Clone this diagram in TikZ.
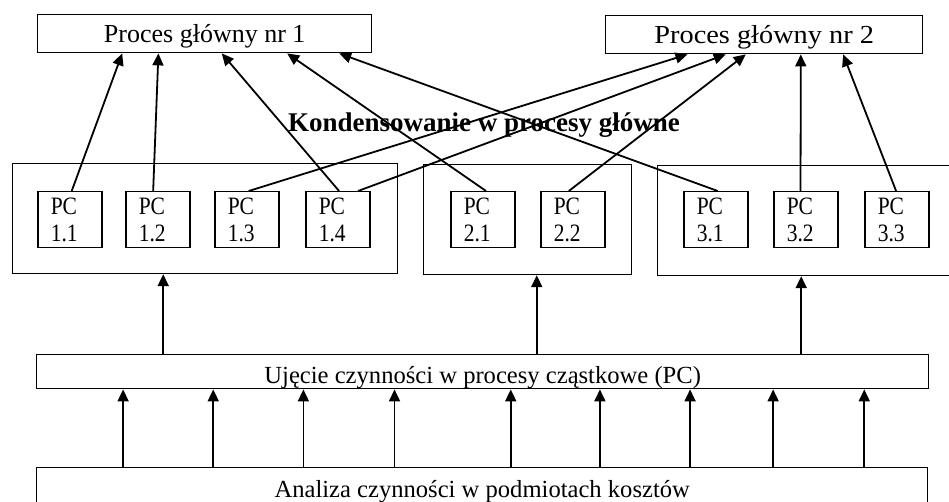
\documentclass[tikz,border=0pt]{standalone}
\usepackage{fontspec}
\setmainfont{Liberation Serif}
\newfontfamily\pcfont[FakeStretch=0.86]{Liberation Serif}
\newfontfamily\widefont[FakeStretch=1.09]{Liberation Serif}
\usetikzlibrary{arrows.meta,calc}

\begin{document}
\begin{tikzpicture}[x=1bp,y=-1bp,
  box/.style={draw, line width=1.4bp, inner sep=0pt, anchor=north west},
  topbox/.style={box, minimum height=38bp, text height=18bp, text depth=0pt},
  groupbox/.style={box, line width=1.2bp, minimum height=110bp},
  pcbox/.style={box, line width=1.5bp, minimum width=64bp, minimum height=56bp, text width=38bp,
    inner xsep=13bp, inner ysep=0pt, align=left,
    font=\fontsize{25bp}{27bp}\pcfont},
  bar/.style={box, font=\fontsize{24.6bp}{28bp}\selectfont},
  arr/.style={line width=1.8bp, -{Triangle[length=12bp,width=11bp]}}
]
\useasboundingbox (0,0) rectangle (949,502);
\clip (0,0) rectangle (949,502);

% main processes
\node[topbox, minimum width=334bp, font=\fontsize{26bp}{30bp}\selectfont]
  (top1) at (37,14) {Proces główny nr 1};
\node[topbox, minimum width=317bp, font=\fontsize{26bp}{30bp}\widefont]
  (top2) at (605,15) {Proces główny nr 2};

% heading between the layers
\node[font=\bfseries\fontsize{27bp}{30bp}\selectfont, anchor=base west, inner sep=0pt]
  (cond) at (288,132) {Kondensowanie w procesy główne};

% groups of partial processes
\node[groupbox, minimum width=385bp] (g1) at (12,163) {};
\node[groupbox, minimum width=208bp] (g2) at (423,164) {};
\node[groupbox, minimum width=330bp] (g3) at (657,165) {};

% partial processes
\node[pcbox] (pc11) at (37,191)  {PC\\1.1};
\node[pcbox] (pc12) at (125,191) {PC\\1.2};
\node[pcbox] (pc13) at (214,191) {PC\\1.3};
\node[pcbox] (pc14) at (305,191) {PC\\1.4};
\node[pcbox] (pc21) at (450,191) {PC\\2.1};
\node[pcbox] (pc22) at (540,191) {PC\\2.2};
\node[pcbox] (pc31) at (683,191) {PC\\3.1};
\node[pcbox] (pc32) at (773,191) {PC\\3.2};
\node[pcbox] (pc33) at (864,191) {PC\\3.3};

% lower layers
\node[bar, minimum width=892bp, minimum height=34bp, text height=24bp, text depth=0pt]
  (bar) at (36,354) {Ujęcie czynności w procesy cząstkowe (PC)};
\node[bar, minimum width=891bp, minimum height=38bp, text height=22bp, text depth=0pt]
  (bot) at (36,467) {Analiza czynności w podmiotach kosztów};

% condensing partial processes into main processes
\foreach \s/\fs/\t/\ft in {
    pc11/0.53/top1/0.254, pc12/0.43/top1/0.362, pc14/0.52/top1/0.551,
    pc21/0.55/top1/0.746, pc31/0.53/top1/0.901,
    pc13/0.53/top2/0.259, pc14/0.81/top2/0.379, pc22/0.44/top2/0.442,
    pc32/0.42/top2/0.615, pc33/0.49/top2/0.748}
  \draw[arr] ($(\s.north west)!\fs!(\s.north east)$)
    -- ($(\t.south west)!\ft!(\t.south east)$);

% from the activity grouping to the groups
\foreach \f/\g in {0.1424/g1, 0.5605/g2, 0.8565/g3} {
  \path ($(bar.north west)!\f!(bar.north east)$) coordinate (p);
  \draw[arr] (p) -- (p |- \g.south);
}

% from the activity analysis to the grouping
\foreach \f in {0.0975,0.1984,0.2993,0.4013,0.5314,0.6312,0.7321,0.8251,0.9271} {
  \path ($(bar.south west)!\f!(bar.south east)$) coordinate (q);
  \draw[arr] (q |- bot.north) -- (q);
}
\end{tikzpicture}
\end{document}
